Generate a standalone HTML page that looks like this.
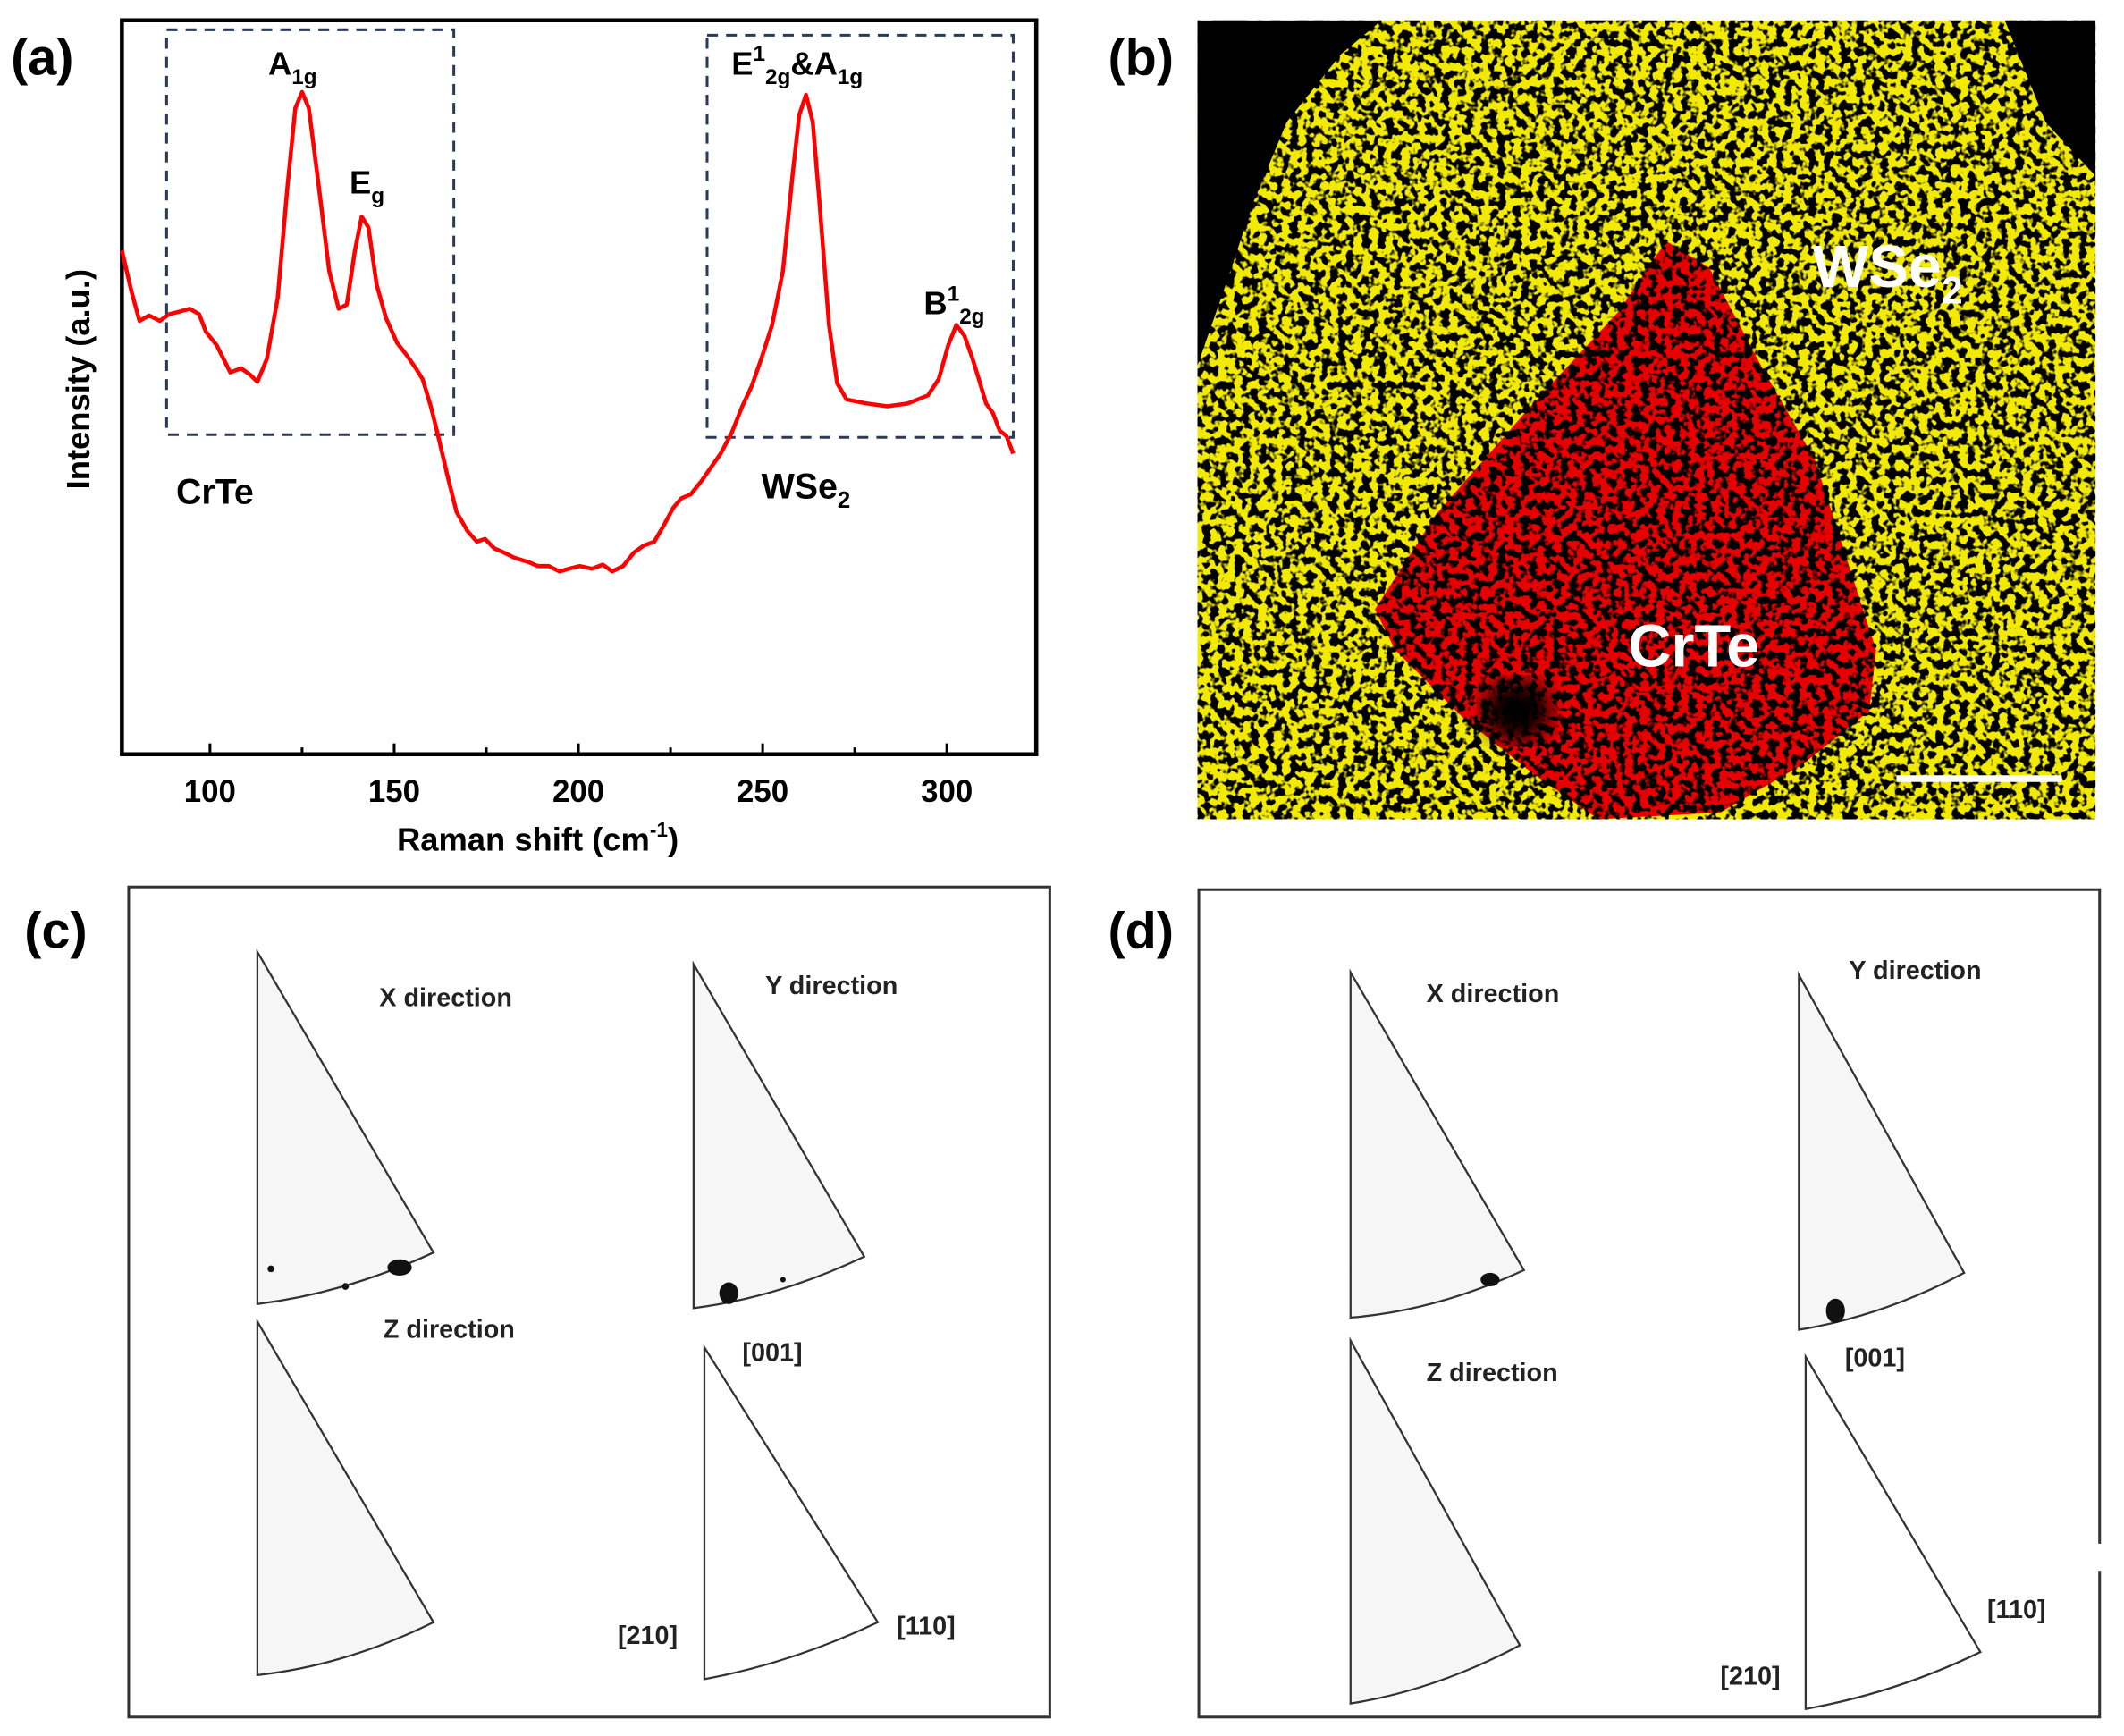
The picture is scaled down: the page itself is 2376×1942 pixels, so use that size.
<!DOCTYPE html>
<html><head><meta charset="utf-8"><style>html,body{margin:0;padding:0;background:#fff}svg{display:block}</style></head>
<body>
<svg width="2376" height="1942" viewBox="0 0 1568 1282" preserveAspectRatio="none" xmlns="http://www.w3.org/2000/svg" font-family="Liberation Sans, Arial, sans-serif">
<defs>
<filter id="tex" x="0" y="0" width="100%" height="100%">
<feTurbulence type="fractalNoise" baseFrequency="0.17" numOctaves="2" seed="3" result="n"/>
<feColorMatrix in="n" type="matrix" values="0 0 0 0 0  0 0 0 0 0  0 0 0 0 0  10 0 0 0 -4.7"/>
</filter>
<filter id="blur"><feGaussianBlur stdDeviation="8"/></filter>
<clipPath id="cb"><rect x="884" y="15" width="663" height="590"/></clipPath>
</defs>
<rect width="1568" height="1282" fill="#fff"/>

<!-- Panel a -->
<text x="8" y="55" font-size="38" font-weight="bold">(a)</text>
<rect x="90" y="15" width="675" height="542" fill="none" stroke="#000" stroke-width="3"/>
<g stroke="#000" stroke-width="2">
<line x1="155" y1="557" x2="155" y2="549"/><line x1="291" y1="557" x2="291" y2="549"/><line x1="427" y1="557" x2="427" y2="549"/><line x1="563" y1="557" x2="563" y2="549"/><line x1="699" y1="557" x2="699" y2="549"/>
<line x1="223" y1="557" x2="223" y2="552"/><line x1="359" y1="557" x2="359" y2="552"/><line x1="495" y1="557" x2="495" y2="552"/><line x1="631" y1="557" x2="631" y2="552"/>
</g>
<g font-size="23" font-weight="bold" text-anchor="middle">
<text x="155" y="592">100</text><text x="291" y="592">150</text><text x="427" y="592">200</text><text x="563" y="592">250</text><text x="699" y="592">300</text>
<text x="397" y="628" font-size="24">Raman shift (cm<tspan font-size="15" dy="-10">-1</tspan><tspan dy="10">)</tspan></text>
<text transform="translate(66,280) rotate(-90)" font-size="24">Intensity (a.u.)</text>
</g>
<g fill="none" stroke="#2b3a55" stroke-width="2" stroke-dasharray="8,6">
<rect x="123" y="22" width="212" height="299"/>
<rect x="522" y="26" width="226" height="297"/>
</g>
<polyline fill="none" stroke="#f00" stroke-width="3" stroke-linejoin="round" points="90,185 97,215 103,237 110,233 118,237 125,232 133,230 140,228 147,232 152,245 160,255 170,275 178,272 185,277 190,282 197,265 205,220 212,140 218,80 223,68 228,80 235,135 243,200 250,228 256,225 262,185 267,160 272,168 278,210 285,235 293,253 300,262 307,272 312,280 318,300 323,320 330,350 337,378 345,392 352,400 358,398 365,405 372,408 380,412 390,415 397,418 405,418 413,422 420,420 428,418 437,420 445,417 452,422 460,418 468,408 475,403 483,400 490,388 497,375 503,368 510,365 518,355 525,345 532,335 540,320 548,300 555,285 562,265 570,240 578,200 585,130 590,85 595,70 600,90 605,150 612,240 618,283 625,295 640,298 655,300 670,298 685,292 693,280 700,255 706,240 712,248 718,265 722,278 728,298 733,305 738,318 743,322 748,335"/>
<g font-size="24" font-weight="bold">
<text x="198" y="55">A<tspan font-size="16" dy="7">1g</tspan></text>
<text x="258" y="143">E<tspan font-size="16" dy="7">g</tspan></text>
<text x="540" y="55">E<tspan font-size="16" dy="-10">1</tspan><tspan font-size="16" dy="17">2g</tspan><tspan dy="-7">&amp;A</tspan><tspan font-size="16" dy="7">1g</tspan></text>
<text x="682" y="232">B<tspan font-size="16" dy="-10">1</tspan><tspan font-size="16" dy="17">2g</tspan></text>
<text x="130" y="372" font-size="26">CrTe</text>
<text x="562" y="368" font-size="26">WSe<tspan font-size="17" dy="7">2</tspan></text>
</g>

<!-- Panel b -->
<text x="818" y="55" font-size="38" font-weight="bold">(b)</text>
<g clip-path="url(#cb)">
<rect x="884" y="15" width="663" height="590" fill="#f2ea00"/>
<path d="M884,15 L1020,15 L990,40 L950,90 L925,150 L905,210 L884,270 Z" fill="#000"/>
<path d="M1480,15 L1547,15 L1547,130 L1510,90 Z" fill="#000"/>
<path d="M1230,178 L1262,198 L1300,270 L1340,340 L1385,480 L1380,525 L1330,565 L1270,600 L1180,605 L1130,570 L1080,530 L1030,480 L1015,450 L1060,380 L1130,300 L1195,230 Z" fill="#e80000"/>
<ellipse cx="1120" cy="525" rx="25" ry="22" fill="#000" filter="url(#blur)"/>
<rect x="884" y="15" width="663" height="590" filter="url(#tex)"/>
</g>
<line x1="1400" y1="575" x2="1522" y2="575" stroke="#fff" stroke-width="5"/>
<g fill="#fff" font-weight="bold">
<text x="1338" y="212" font-size="44">WSe<tspan font-size="28" dy="12">2</tspan></text>
<text x="1202" y="492" font-size="44">CrTe</text>
</g>

<!-- Panel c -->
<text x="18" y="700" font-size="38" font-weight="bold">(c)</text>
<rect x="95" y="655" width="680" height="613" fill="none" stroke="#333" stroke-width="2"/>
<!-- Panel d -->
<text x="818" y="700" font-size="38" font-weight="bold">(d)</text>
<rect x="885" y="657" width="665" height="611" fill="none" stroke="#333" stroke-width="2"/>
<rect x="1545" y="1140" width="10" height="20" fill="#fff"/>

<g fill="#f6f6f6" stroke="#333" stroke-width="1.5">
<path d="M190,703 L320,925 Q255,955 190,963 Z"/>
<path d="M512,712 L638,928 Q575,958 512,966 Z"/>
<path d="M190,976 L320,1198 Q255,1230 190,1237 Z"/>
<path d="M997,718 L1125,938 Q1060,968 997,973 Z"/>
<path d="M1328,720 L1450,940 Q1390,972 1328,982 Z"/>
<path d="M997,990 L1122,1215 Q1060,1248 997,1258 Z"/>
</g>
<g fill="#fff" stroke="#333" stroke-width="1.5">
<path d="M520,995 L648,1198 Q585,1228 520,1240 Z"/>
<path d="M1333,1002 L1462,1220 Q1400,1250 1333,1262 Z"/>
</g>
<g fill="#111">
<ellipse cx="295" cy="936" rx="9" ry="6"/><ellipse cx="538" cy="955" rx="7" ry="8"/>
<ellipse cx="1100" cy="945" rx="7" ry="5"/><ellipse cx="1355" cy="968" rx="7" ry="9"/>
<circle cx="200" cy="937" r="2.5"/><circle cx="255" cy="950" r="2.5"/><circle cx="578" cy="945" r="2"/>
</g>
<g font-size="19" font-weight="bold" fill="#222">
<text x="280" y="743">X direction</text>
<text x="565" y="734">Y direction</text>
<text x="283" y="988">Z direction</text>
<text x="548" y="1005">[001]</text>
<text x="662" y="1207">[110]</text>
<text x="456" y="1214">[210]</text>
<text x="1053" y="740">X direction</text>
<text x="1365" y="723">Y direction</text>
<text x="1053" y="1020">Z direction</text>
<text x="1362" y="1009">[001]</text>
<text x="1467" y="1195">[110]</text>
<text x="1270" y="1244">[210]</text>
</g>
</svg>
</body></html>
